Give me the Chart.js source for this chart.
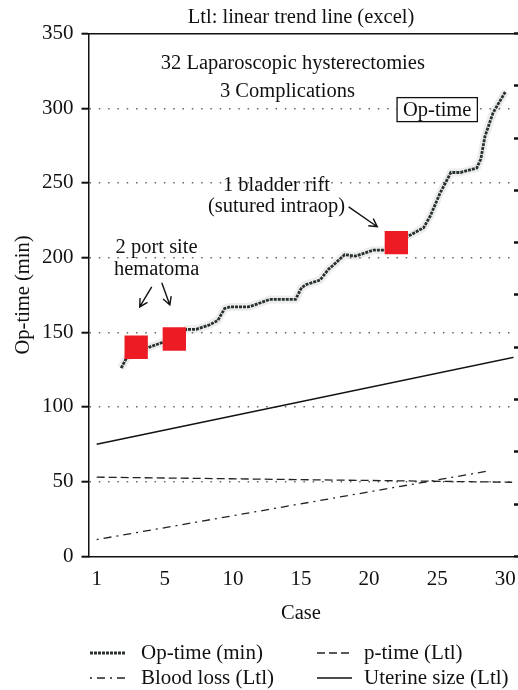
<!DOCTYPE html>
<html>
<head>
<meta charset="utf-8">
<script src="https://cdn.jsdelivr.net/npm/chart.js@4.4.1/dist/chart.umd.min.js"></script>
<style>
html,body{margin:0;padding:0;background:#fff;overflow:hidden;width:518px;height:690px}
</style>
</head>
<body>
<canvas id="myChart" width="530" height="690"></canvas>
<script>
// x axis: first tick sits at position 0 and is labelled "1"
const xTickValues = [0, 5, 10, 15, 20, 25, 30];
const xTickLabels = ['1', '5', '10', '15', '20', '25', '30'];

// Op-time curve (case position, minutes)
const opCase = [1.8, 2.2, 3.0, 3.85, 4.76, 5.7, 6.6, 7.3, 8.3, 8.9, 9.4, 9.8, 11.1, 11.5, 12.7, 14.6, 15.05, 15.4, 16.4, 17.0, 17.5, 18.2, 19.0, 20.3, 21.2, 22.0, 23.0, 24.0, 24.5, 25.2, 26.0, 26.7, 27.9, 28.2, 28.5, 29.1, 30.0];
const opTime = [126, 133, 137, 140, 143, 146, 152, 152, 155, 158, 166, 167, 167, 168, 172, 172, 180, 182, 185, 192, 196, 202, 201, 205, 205, 210, 215, 220, 228, 243, 257, 257, 260, 266, 281, 297, 311];

// complications (red squares)
const compCase = [2.9, 5.7, 22.0];
const compTime = [140, 145.5, 210];

// linear trend lines (start / end)
const pTimeX = [0, 30.5];
const pTimeY = [53, 49.6];
const bloodX = [0, 28.8];
const bloodY = [11.2, 57.2];
const uterusX = [0, 31];
const uterusY = [75, 134];

const FONT = '"Liberation Serif", "DejaVu Serif", serif';
const INK = '#111';

const pts = (xs, ys) => xs.map((v, i) => ({x: v, y: ys[i]}));

// text notes placed in data coordinates
const notes = [
  {text: '32 Laparoscopic hysterectomies', x: 14.4, y: 330},
  {text: '3 Complications', x: 14.0, y: 311.2},
  {text: '1 bladder rift', x: 13.2, y: 248.2},
  {text: '(sutured intraop)', x: 13.2, y: 234},
  {text: '2 port site', x: 4.4, y: 206.6},
  {text: 'hematoma', x: 4.4, y: 191.8}
];
const arrows = [
  {x1: 18.5, y1: 234, x2: 20.6, y2: 220.7},
  {x1: 4.04, y1: 180.4, x2: 3.16, y2: 167},
  {x1: 4.78, y1: 183.1, x2: 5.37, y2: 168.3}
];
const boxNote = {text: 'Op-time', x: 25.0, y: 299.1};

const annotate = {
  id: 'annotate',
  afterDatasetsDraw(chart) {
    const {ctx, scales: {x, y}} = chart;
    ctx.save();
    ctx.font = '20.5px ' + FONT;
    ctx.fillStyle = INK;
    ctx.textAlign = 'center';
    ctx.textBaseline = 'middle';
    notes.forEach(n => ctx.fillText(n.text, x.getPixelForValue(n.x), y.getPixelForValue(n.y)));

    // boxed label
    const bx = x.getPixelForValue(boxNote.x), by = y.getPixelForValue(boxNote.y);
    const w = ctx.measureText(boxNote.text).width + 12, h = 24;
    ctx.fillStyle = '#fff';
    ctx.fillRect(bx - w / 2, by - h / 2, w, h);
    ctx.strokeStyle = INK;
    ctx.lineWidth = 1.3;
    ctx.strokeRect(bx - w / 2, by - h / 2, w, h);
    ctx.fillStyle = INK;
    ctx.fillText(boxNote.text, bx, by + 1);

    // arrows
    ctx.lineWidth = 1.4;
    arrows.forEach(a => {
      const x1 = x.getPixelForValue(a.x1), y1 = y.getPixelForValue(a.y1);
      const x2 = x.getPixelForValue(a.x2), y2 = y.getPixelForValue(a.y2);
      const ang = Math.atan2(y2 - y1, x2 - x1);
      ctx.beginPath();
      ctx.moveTo(x1, y1);
      ctx.lineTo(x2, y2);
      ctx.moveTo(x2 - 9 * Math.cos(ang - 0.5), y2 - 9 * Math.sin(ang - 0.5));
      ctx.lineTo(x2, y2);
      ctx.lineTo(x2 - 9 * Math.cos(ang + 0.5), y2 - 9 * Math.sin(ang + 0.5));
      ctx.stroke();
    });
    ctx.restore();
  }
};

// legend in two columns under the plot
const legendCols = [90, 317];
const legendRows = [653, 678];
const bottomLegend = {
  id: 'bottomLegend',
  afterDraw(chart) {
    const {ctx} = chart;
    const items = chart.data.datasets.filter(d => d.inLegend);
    ctx.save();
    ctx.font = '21px ' + FONT;
    ctx.textBaseline = 'middle';
    items.forEach((d, i) => {
      const lx = legendCols[i % 2], ly = legendRows[Math.floor(i / 2)];
      ctx.strokeStyle = d.borderColor;
      ctx.lineWidth = d.borderWidth;
      ctx.setLineDash(d.borderDash || []);
      ctx.beginPath();
      ctx.moveTo(lx, ly);
      ctx.lineTo(lx + 35, ly);
      ctx.stroke();
      ctx.setLineDash([]);
      ctx.fillStyle = INK;
      ctx.fillText(d.label, lx + (i % 2 ? 47 : 51), ly);
    });
    ctx.restore();
  }
};

new Chart(document.getElementById('myChart'), {
  type: 'line',
  data: {
    datasets: [
      {
        label: 'complications', data: pts(compCase, compTime), showLine: false,
        pointStyle: 'rect', pointRadius: 16.5, pointBackgroundColor: '#ed1c24', pointBorderWidth: 0, order: 0
      },
      {
        label: 'Op-time (min)', inLegend: true, data: pts(opCase, opTime),
        borderColor: '#283030', borderWidth: 2.8, borderDash: [3, 1], pointRadius: 0, tension: 0, order: 1
      },
      {
        label: 'p-time (Ltl)', inLegend: true, data: pts(pTimeX, pTimeY),
        borderColor: '#222', borderWidth: 1.3, borderDash: [8, 4], pointRadius: 0, order: 2
      },
      {
        label: 'Blood loss (Ltl)', inLegend: true, data: pts(bloodX, bloodY),
        borderColor: '#222', borderWidth: 1.3, borderDash: [2, 5, 8, 5], pointRadius: 0, order: 2
      },
      {
        label: 'Uterine size (Ltl)', inLegend: true, data: pts(uterusX, uterusY),
        borderColor: '#111', borderWidth: 1.5, pointRadius: 0, order: 2
      },
      {
        label: 'halo', data: pts(opCase, opTime),
        borderColor: 'rgba(0,0,0,0.07)', borderWidth: 8, pointRadius: 0, order: 3
      }
    ]
  },
  options: {
    responsive: false,
    animation: false,
    layout: {padding: {left: 13.5, right: 2, top: 0, bottom: 66}},
    plugins: {
      legend: {display: false},
      tooltip: {enabled: false},
      title: {
        display: true, fullSize: false, text: 'Ltl: linear trend line (excel)', color: INK,
        font: {family: FONT, size: 20.5, weight: 'normal'}, padding: {top: 5, bottom: 4}
      }
    },
    scales: {
      x: {
        type: 'linear', position: 'bottom', min: -0.6, max: 30.6,
        afterBuildTicks: s => { s.ticks = xTickValues.map(v => ({value: v})); },
        ticks: {
          callback: v => xTickLabels[xTickValues.indexOf(v)],
          font: {family: FONT, size: 21}, color: INK, padding: 11, maxRotation: 0, autoSkip: false
        },
        grid: {display: false, drawTicks: false},
        border: {display: true, color: INK, width: 1.5},
        title: {display: true, text: 'Case', color: INK, font: {family: FONT, size: 20.5, lineHeight: 1}, padding: {top: 0, bottom: 0}}
      },
      xTop: {
        type: 'linear', position: 'top', min: -0.6, max: 30.6,
        ticks: {display: false},
        grid: {display: false, drawTicks: false},
        border: {display: true, color: INK, width: 1.5}
      },
      y: {
        type: 'linear', position: 'left', min: 0, max: 350,
        ticks: {stepSize: 50, font: {family: FONT, size: 21}, color: INK, padding: 8},
        grid: {
          color: c => (c.tick && (c.tick.value === 0 || c.tick.value === 350)) ? 'rgba(0,0,0,0)' : '#666',
          lineWidth: 1.4, tickColor: INK, tickLength: 7, tickWidth: 2
        },
        border: {display: true, color: INK, width: 1.5, dash: [1.5, 7.8]},
        title: {display: true, text: 'Op-time (min)', color: INK, font: {family: FONT, size: 20.5, lineHeight: 1}, padding: {top: 0, bottom: 0}}
      },
      y2: {
        type: 'linear', position: 'right', min: 0, max: 1000,
        ticks: {display: false, stepSize: 100},
        grid: {drawOnChartArea: false, tickLength: 5, tickColor: INK, tickWidth: 2.5},
        border: {display: false}
      }
    }
  },
  plugins: [annotate, bottomLegend]
});
</script>
</body>
</html>
